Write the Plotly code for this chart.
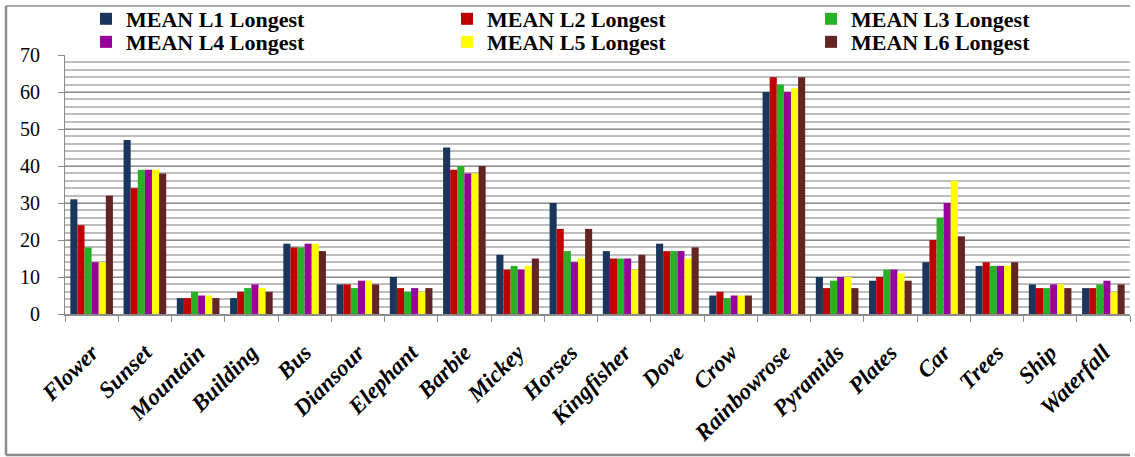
import plotly.graph_objects as go

categories = ["Flower", "Sunset", "Mountain", "Building", "Bus", "Diansour", "Elephant",
              "Barbie", "Mickey", "Horses", "Kingfisher", "Dove", "Crow", "Rainbowrose",
              "Pyramids", "Plates", "Car", "Trees", "Ship", "Waterfall"]

mean_l1 = [31, 47, 4.3, 4.3, 19, 8, 10, 45, 16, 30, 17, 19, 5, 60, 10, 9, 14, 13, 8, 7]
mean_l2 = [24, 34, 4.3, 6, 18, 8, 7, 39, 12, 23, 15, 17, 6, 64, 7, 10, 20, 14, 7, 7]
mean_l3 = [18, 39, 6, 7, 18, 7, 6, 40, 13, 17, 15, 17, 4.3, 62, 9, 12, 26, 13, 7, 8]
mean_l4 = [14, 39, 5, 8, 19, 9, 7, 38, 12, 14, 15, 17, 5, 60, 10, 12, 30, 13, 8, 9]
mean_l5 = [14, 39, 5, 7, 19, 9, 6, 38, 13, 15, 12, 15, 5, 61, 10, 11, 36, 13, 8, 6]
mean_l6 = [32, 38, 4.3, 6, 17, 8, 7, 40, 15, 23, 16, 18, 5, 64, 7, 9, 21, 14, 7, 8]

series_names = ["MEAN L1 Longest", "MEAN L2 Longest", "MEAN L3 Longest",
                "MEAN L4 Longest", "MEAN L5 Longest", "MEAN L6 Longest"]
series_values = [mean_l1, mean_l2, mean_l3, mean_l4, mean_l5, mean_l6]
series_colors = ["#1b365d", "#c00000", "#28b028", "#990099", "#ffff00", "#632523"]

y_ticks = [0, 10, 20, 30, 40, 50, 60, 70]

serif = "Liberation Serif, Times New Roman, serif"

# Legend laid out as a 3 x 2 grid: one legend box per entry
legend_ids = ["legend", "legend2", "legend3", "legend4", "legend5", "legend6"]
legend_x = [0.0197, 0.3587, 0.7005]
legend_y = [1.139, 1.050]

fig = go.Figure()
for i, (name, vals, col) in enumerate(zip(series_names, series_values, series_colors)):
    fig.add_trace(go.Bar(x=categories, y=vals, name=name, marker_color=col,
                         marker_line_width=0, legend=legend_ids[i]))

legend_layout = {}
for i, lid in enumerate(legend_ids):
    legend_layout[lid] = dict(
        x=legend_x[i % 3], xanchor="left", y=legend_y[i // 3], yanchor="middle",
        font=dict(family=serif, size=22, color="#000000", weight="bold"),
        bgcolor="rgba(0,0,0,0)", itemwidth=30,
    )

fig.update_layout(
    width=1135, height=457,
    margin=dict(l=65, r=5, t=55, b=143, autoexpand=False),
    paper_bgcolor="white", plot_bgcolor="white",
    barmode="group", bargap=0.2, bargroupgap=0,
    showlegend=True,
    xaxis=dict(
        type="category", tickson="boundaries", ticks="outside", ticklen=6,
        tickcolor="#8c8c8c", showline=True, linecolor="#8c8c8c", linewidth=2,
        showgrid=False, tickangle=-45,
        tickfont=dict(family=serif, size=23, color="#000000", weight="bold", style="italic"),
        ticklabelstandoff=14, range=[-0.5, 19.5],
    ),
    yaxis=dict(
        range=[0, 70], tickvals=y_ticks, ticks="outside", ticklen=6, tickcolor="#8c8c8c",
        showline=True, linecolor="#8c8c8c", linewidth=1,
        showgrid=True, gridcolor="#8c8c8c", gridwidth=1,
        minor=dict(dtick=2, showgrid=True, gridcolor="#bdbdbd", gridwidth=1.5),
        tickfont=dict(family=serif, size=20, color="#000000"),
        ticklabelstandoff=14, zeroline=False,
    ),
    **legend_layout,
)

# Outer chart frame
frame_col = "#8c8c8c"
fig.add_shape(type="line", xref="paper", yref="paper", x0=-59 / 1065, x1=1.0,
              y0=1 + 49 / 259, y1=1 + 49 / 259, line=dict(color=frame_col, width=1.5))
fig.add_shape(type="line", xref="paper", yref="paper", x0=-59 / 1065, x1=-59 / 1065,
              y0=1 + 49 / 259, y1=-141 / 259, line=dict(color=frame_col, width=2.5))
fig.add_shape(type="line", xref="paper", yref="paper", x0=-59 / 1065, x1=1.0,
              y0=-141 / 259, y1=-141 / 259, line=dict(color=frame_col, width=2.5))

fig.write_html("out.html")
